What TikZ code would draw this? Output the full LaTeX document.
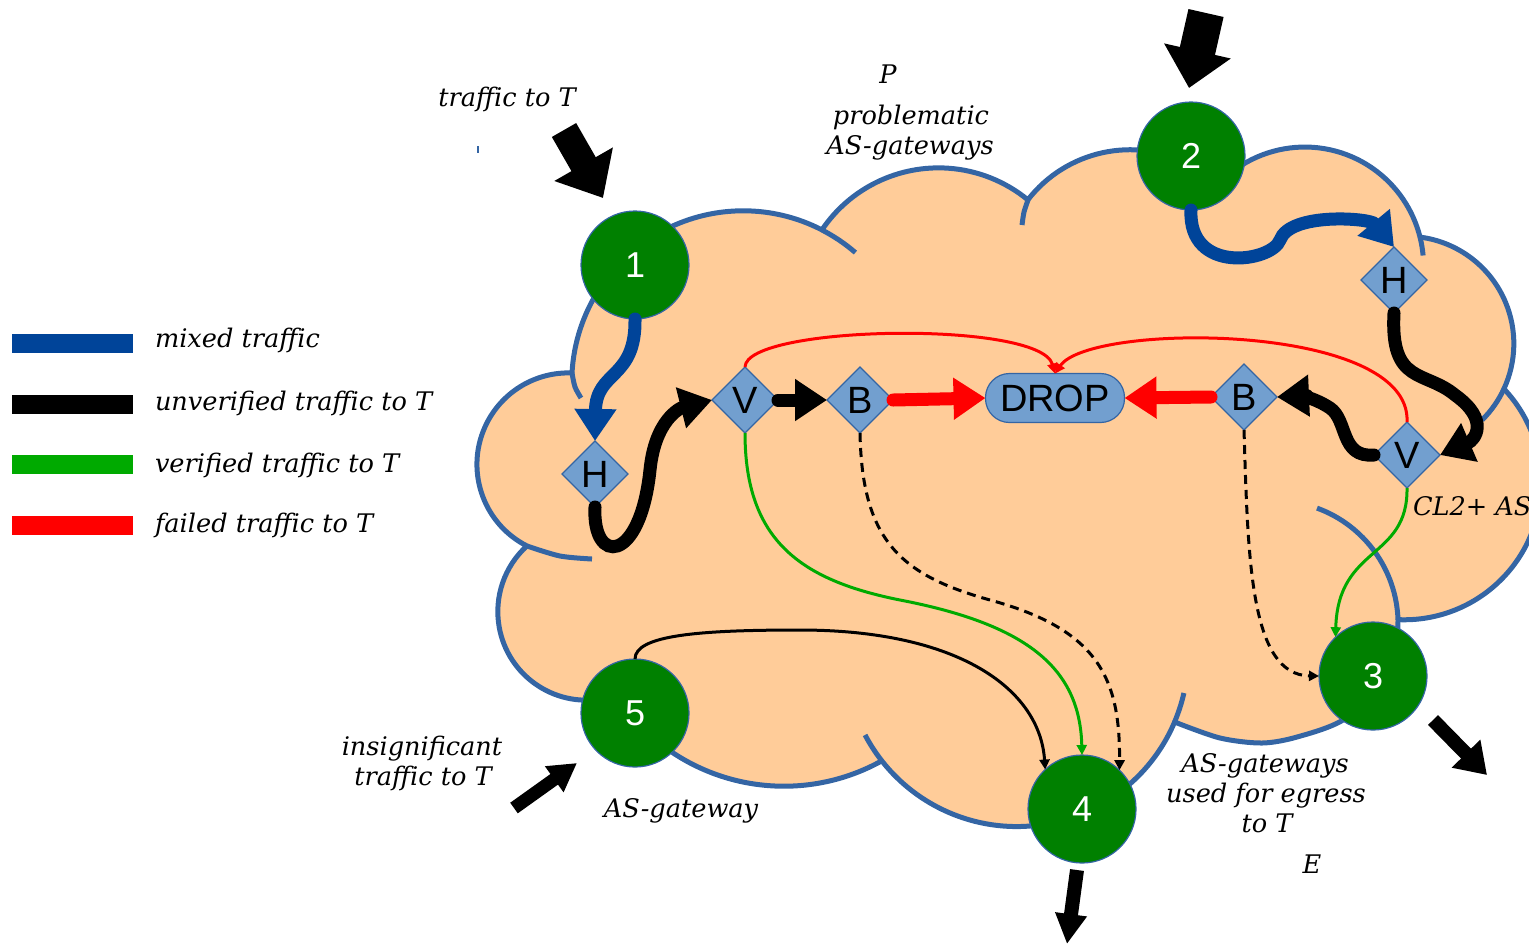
\documentclass[tikz,border=0pt]{standalone}
\usepackage{fontspec}
\setmainfont{DejaVu Serif}
\newfontfamily\labfont{Liberation Sans}
\usetikzlibrary{arrows.meta,shapes.geometric}
\definecolor{peach}{HTML}{FFCC99}
\definecolor{outl}{HTML}{3465A4}
\definecolor{diafill}{HTML}{729FCF}
\definecolor{gwgreen}{HTML}{008000}
\definecolor{mixcol}{HTML}{004499}
\definecolor{vercol}{HTML}{00AA00}
\definecolor{failcol}{HTML}{FF0000}
\tikzset{
  cloudline/.style={draw=outl, line width=2.5pt},
  dia/.style={diamond, aspect=1, fill=diafill, draw=outl, line width=0.6pt, minimum width=33pt, minimum height=33pt, inner sep=0pt, outer sep=0pt, font=\labfont\fontsize{19}{19}\selectfont},
  gw/.style={circle, fill=gwgreen, draw=outl, line width=0.6pt, minimum size=54pt, inner sep=0pt, outer sep=0pt, text=white, font=\labfont\fontsize{18}{18}\selectfont},
  dropbox/.style={rectangle, rounded corners=12pt, fill=diafill, draw=outl, line width=0.6pt, minimum width=69.5pt, minimum height=24.5pt, inner sep=0pt, outer sep=0pt, font=\labfont\fontsize{19}{19}\selectfont},
  lbl/.style={font=\itshape\fontsize{12.8}{14}\selectfont, inner sep=0pt, outer sep=0pt},
  fat/.style={line width=6.5pt, line cap=round, -{Triangle[length=16pt,width=20pt]}},
  slim/.style={line width=1.5pt, -{Triangle[length=5pt,width=5pt]}},
  dashline/.style={slim, black, dash pattern=on 4.5pt off 3pt},
  legbar/.style={line width=9.5pt},
}
\begin{document}
\begin{tikzpicture}[x=0.5pt,y=-0.5pt]
\useasboundingbox (0,0) rectangle (1529,944);

% cloud
\path[fill=peach, cloudline, line join=round]
  (572,373) arc[start angle=183.1, end angle=297.3, radius=171.5]
  arc[start angle=214, end angle=309.4, radius=140.7]
  arc[start angle=217.8, end angle=297.5, radius=129.5]
  -- (1207.4,197.7) arc[start angle=215, end angle=346, radius=118.8]
  arc[start angle=277.3, end angle=384.8, radius=107.5]
  arc[start angle=316.7, end angle=452.6, radius=137]
  -- plot[smooth] coordinates {(1398,620) (1390,680) (1343,720) (1297,737) (1262,743) (1220,738) (1174.6,722)}
  arc[start angle=23, end angle=141.9, radius=171.5]
  arc[start angle=60.9, end angle=130, radius=201.2]
  -- (601.8,698.8) arc[start angle=80, end angle=227.8, radius=88.6]
  arc[start angle=117, end angle=272.2, radius=91.5]
  -- cycle;
\draw[cloudline] plot[smooth] coordinates {(572,373) (575,387) (581,398)};
\draw[cloudline] (822,230) arc[start angle=297.3, end angle=310.8, radius=171.5];
\draw[cloudline] plot[smooth] coordinates {(1028,200) (1024,212) (1022,225)};
\draw[cloudline] (1420,237.1) arc[start angle=346, end angle=355, radius=118.8];
\draw[cloudline] (1504,388.7) arc[start angle=24.8, end angle=45.3, radius=107.5];
\draw[cloudline] (1398,620) arc[start angle=358.2, end angle=290, radius=123.2];
\draw[cloudline] (1183.9,693) arc[start angle=12.8, end angle=23, radius=171.5];
\draw[cloudline] (881.8,760.8) arc[start angle=141.9, end angle=152.2, radius=171.5];
\draw[cloudline] plot[smooth] coordinates {(527,546) (560,556) (592,559)};
\draw[outl, line width=1pt] (478,146) -- (478,153);

% legend
\draw[legbar, mixcol] (12,343.5) -- (133,343.5);
\draw[legbar, black] (12,404) -- (133,404);
\draw[legbar, vercol] (12,464.5) -- (133,464.5);
\draw[legbar, failcol] (12,525) -- (133,525);
\node[lbl, anchor=base west] (lg1) at (155,347) {mixed traffic};
\node[lbl, anchor=base west] (lg2) at (155,410) {unverified traffic to T};
\node[lbl, anchor=base west] (lg3) at (155,472) {verified traffic to T};
\node[lbl, anchor=base west] (lg4) at (155,532) {failed traffic to T};

% texts
\node[lbl, anchor=base] (tt1) at (507,106) {traffic to T};
\node[lbl, anchor=base] (tp) at (888,83) {P};
\node[lbl, anchor=base] (tp1) at (911,124) {problematic};
\node[lbl, anchor=base] (tp2) at (910,154) {AS-gateways};
\node[lbl, anchor=base west] (tcl) at (1413,515) {CL2+ AS};
\node[lbl, anchor=base] (ti1) at (422,755) {insignificant};
\node[lbl, anchor=base] (ti2) at (423,785) {traffic to T};
\node[lbl, anchor=base] (tag) at (681,817) {AS-gateway};
\node[lbl, anchor=base] (te1) at (1265,772) {AS-gateways};
\node[lbl, anchor=base] (te2) at (1266,802) {used for egress};
\node[lbl, anchor=base] (te3) at (1267,832) {to T};
\node[lbl, anchor=base] (tE) at (1312,873) {E};

% nodes
\node[gw] (n1) at (635,265) {1};
\node[gw] (n2) at (1191,156) {2};
\node[gw] (n3) at (1373,676) {3};
\node[gw] (n4) at (1082,809) {4};
\node[gw] (n5) at (635,713) {5};
\node[dia] (h1) at (595,474) {H};
\node[dia] (v1) at (745,400) {V};
\node[dia] (b1) at (860,400) {B};
\node[dropbox] (drop) at (1055,398) {DROP};
\node[dia] (b2) at (1244,397) {B};
\node[dia] (v2) at (1407,455) {V};
\node[dia] (h2) at (1394,280) {H};

% connectors
\draw[fat, mixcol] (n1.south) .. controls (636,380) and (596,370) .. (h1.north);
\draw[fat, mixcol] (n2.south) .. controls (1188,275) and (1272,262) .. (1280,240) .. controls (1290,212) and (1370,218) .. (h2.north);
\draw[fat, black] (h1.south) .. controls (592,565) and (640,565) .. (650,470) .. controls (655,420) and (680,408) .. (v1.west);
\draw[fat, black] (v1.east) -- (b1.west);
\draw[fat, black] (h2.south) .. controls (1390,385) and (1425,370) .. (1455,395) .. controls (1490,420) and (1475,440) .. (v2.east);
\draw[fat, black] (v2.west) .. controls (1340,458) and (1348,420) .. (1330,408) .. controls (1315,398) and (1300,396) .. (b2.east);
\draw[fat, failcol] (b1.east) -- (drop.west);
\draw[fat, failcol] (b2.west) -- (drop.east);
\draw[slim, failcol] (v1.north) .. controls (746,325) and (1040,320) .. (drop.north);
\draw[slim, failcol] (v2.north) .. controls (1412,322) and (1090,322) .. (drop.north);
\draw[slim, vercol] (v1.south) .. controls (745,540) and (800,580) .. (900,600) .. controls (1030,625) and (1080,670) .. (n4.north);
\draw[slim, vercol] (v2.south) .. controls (1408,560) and (1338,545) .. (n3.134);
\draw[slim, black] (n5.north) .. controls (635,635) and (700,630) .. (800,630) .. controls (960,630) and (1040,690) .. (n4.133);
\draw[dashline] (b1.south) .. controls (862,540) and (900,575) .. (990,600) .. controls (1100,630) and (1120,680) .. (n4.46);
\draw[dashline] (b2.south) .. controls (1248,560) and (1250,675) .. (n3.west);

% block arrows
\coordinate (a1s) at (564,130); \coordinate (a1e) at (603,198);
\coordinate (a2s) at (1206,13); \coordinate (a2e) at (1189,88);
\coordinate (a3s) at (1433,720); \coordinate (a3e) at (1487,775);
\coordinate (a4s) at (1077,870); \coordinate (a4e) at (1067,944);
\coordinate (a5s) at (514,808); \coordinate (a5e) at (577,763);
\draw[line width=14pt, -{Triangle[length=19.5pt,width=32.5pt]}] (a1s) -- (a1e);
\draw[line width=18pt, -{Triangle[length=19pt,width=33pt]}] (a2s) -- (a2e);
\draw[line width=7pt, -{Triangle[length=15pt,width=19pt]}] (a3s) -- (a3e);
\draw[line width=7pt, -{Triangle[length=15pt,width=15pt]}] (a4s) -- (a4e);
\draw[line width=6.5pt, -{Triangle[length=14pt,width=15pt]}] (a5s) -- (a5e);
\end{tikzpicture}
\end{document}
